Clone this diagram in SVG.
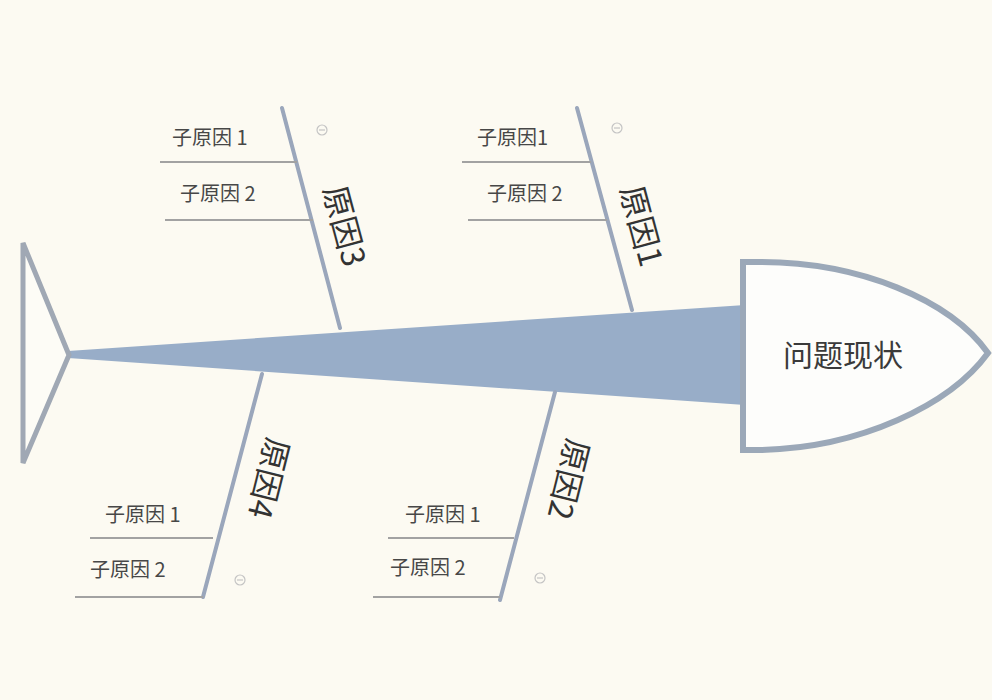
<svg xmlns="http://www.w3.org/2000/svg" width="992" height="700" viewBox="0 0 992 700">
<style>
.bone{stroke:#9aa6bb;stroke-width:4;fill:none;stroke-linecap:round}
.sub{stroke:#a2a2a2;stroke-width:2;fill:none}
.st{font-family:"Noto Sans CJK SC","Liberation Sans",sans-serif;font-size:20px;fill:#474747}
.lbl{font-family:"Noto Sans CJK SC","Liberation Sans",sans-serif;font-size:32px;fill:#333}
.icon{stroke:#c4c4c4;stroke-width:1.2;fill:none}
</style>
<rect width="992" height="700" fill="#fcfaf2"/>
<g id="connectors">
  <polygon points="68,351 745,305 745,405 68,358" fill="#98adc8"/>
  <line class="bone" x1="282" y1="108" x2="340" y2="328"/>
  <line class="sub" x1="160" y1="162" x2="297" y2="162"/>
  <line class="sub" x1="165" y1="220" x2="313" y2="220"/>
  <line class="bone" x1="577" y1="108" x2="632" y2="310"/>
  <line class="sub" x1="462" y1="162" x2="591" y2="162"/>
  <line class="sub" x1="468" y1="220" x2="607" y2="220"/>
  <line class="bone" x1="555" y1="392" x2="500" y2="600"/>
  <line class="sub" x1="388" y1="538" x2="514" y2="538"/>
  <line class="sub" x1="373" y1="597" x2="500" y2="597"/>
  <line class="bone" x1="262" y1="374" x2="203" y2="597"/>
  <line class="sub" x1="90" y1="538" x2="213" y2="538"/>
  <line class="sub" x1="75" y1="597" x2="203" y2="597"/>
</g>
<g id="tail">
  <path d="M23,243 L69,355 L23,463 Z" fill="#fdfcf6" stroke="#a0a8b4" stroke-width="5" stroke-linejoin="miter"/>
</g>
<g id="head">
  <path d="M743,262 L760,262 C860,262 950,300 988,353 C950,405 860,448 760,450 L743,450 Z" fill="#fdfdfb" stroke="#9ba8b8" stroke-width="6"/>
  <text x="843" y="366" text-anchor="middle" font-family="'Noto Sans CJK SC','Liberation Sans',sans-serif" font-size="30" fill="#3a3a3a">问题现状</text>
</g>
<g id="cause3">
  <text class="lbl" transform="translate(344,226) rotate(75)" text-anchor="middle" dy="11">原因3</text>
  <text class="st" x="172" y="145">子原因 1</text>
  <text class="st" x="180" y="201">子原因 2</text>
  <g class="icon"><circle cx="322" cy="130" r="5"/><line x1="319" y1="130" x2="325" y2="130"/></g>
</g>
<g id="cause1">
  <text class="lbl" transform="translate(641,226) rotate(75)" text-anchor="middle" dy="11">原因1</text>
  <text class="st" x="477" y="145">子原因1</text>
  <text class="st" x="487" y="201">子原因 2</text>
  <g class="icon"><circle cx="617" cy="128" r="5"/><line x1="614" y1="128" x2="620" y2="128"/></g>
</g>
<g id="cause2">
  <text class="lbl" transform="translate(568,479) rotate(104)" text-anchor="middle" dy="11">原因2</text>
  <text class="st" x="405" y="522">子原因 1</text>
  <text class="st" x="390" y="575">子原因 2</text>
  <g class="icon"><circle cx="540" cy="578" r="5"/><line x1="537" y1="578" x2="543" y2="578"/></g>
</g>
<g id="cause4">
  <text class="lbl" transform="translate(268,478) rotate(104)" text-anchor="middle" dy="11">原因4</text>
  <text class="st" x="105" y="522">子原因 1</text>
  <text class="st" x="90" y="577">子原因 2</text>
  <g class="icon"><circle cx="240" cy="580" r="5"/><line x1="237" y1="580" x2="243" y2="580"/></g>
</g>
</svg>
